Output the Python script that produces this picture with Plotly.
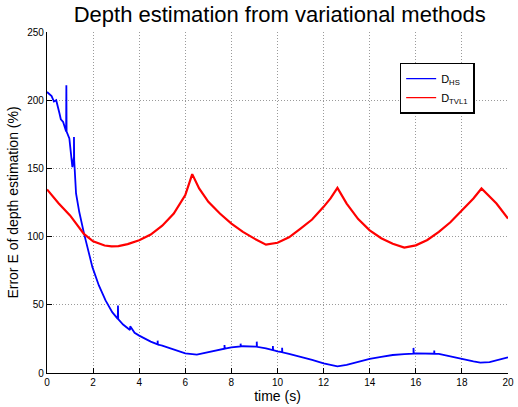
import plotly.graph_objects as go

# Red: D_TVL1
t_tvl1 = [0, 0.5, 1.0, 1.6, 2.0, 2.5, 2.8, 3.1, 3.5, 4.0, 4.5, 5.0, 5.5, 6.0, 6.3,
          6.6, 7.0, 7.5, 8.0, 8.5, 9.0, 9.5, 10.0, 10.5, 11.0, 11.5, 12.0, 12.3, 12.6,
          13.0, 13.5, 14.0, 14.5, 15.0, 15.5, 16.0, 16.5, 17.0, 17.5, 18.0, 18.5, 18.85,
          19.2, 19.5, 20.0]
e_tvl1 = [134.6, 124.5, 115.5, 102.0, 96.5, 93.5, 92.9, 93.0, 94.5, 97.3, 101.5, 108.0, 116.9, 130.4, 145.8,
          135.3, 125.5, 116.9, 109.5, 103.5, 98.5, 94.1, 95.5, 99.5, 105.9, 112.5, 121.8, 128.0, 135.7,
          124.2, 112.8, 104.6, 98.8, 94.8, 91.9, 93.6, 97.5, 103.4, 110.5, 119.3, 128.0, 135.3,
          129.0, 124.2, 113.2]

# Blue: D_HS (including visible spikes)
t_hs = [0, 0.1, 0.2, 0.3, 0.4, 0.54, 0.6, 0.7, 0.83, 0.84, 0.85, 0.97, 1.1, 1.17, 1.17, 1.18, 1.26, 1.4, 1.61,
        1.8, 1.97, 2.25, 2.54, 2.83, 3.07, 3.08, 3.09, 3.3, 3.54, 3.6, 3.61, 3.8, 4.0, 4.5,
        4.8, 4.8, 4.81, 5.0, 5.5, 6.0, 6.5, 7.0, 7.5, 7.7, 7.7, 7.71, 8.0, 8.4, 8.4, 8.41, 8.5,
        9.0, 9.1, 9.1, 9.11, 9.5, 9.8, 9.8, 9.81, 10.0, 10.2, 10.2, 10.21, 10.5, 11.0, 11.5, 12.0,
        12.6, 13.0, 13.5, 14.0, 14.5, 15.0, 15.5, 15.9, 15.9, 15.91, 16.0, 16.5, 16.8, 16.8,
        16.81, 17.0, 17.5, 18.0, 18.5, 18.8, 19.2, 19.5, 20.0]
e_hs = [206.0, 204.5, 203.0, 199.0, 200.0, 190.4, 186.0, 184.0, 177.0, 211.0, 177.0, 172.0, 151.0, 158.5, 173.0, 156.0, 131.6, 118.0, 102.0,
        88.5, 77.6, 64.2, 53.2, 44.6, 39.7, 49.5, 39.5, 35.5, 32.3, 31.5, 34.3, 29.5, 27.4, 23.0,
        21.0, 23.7, 20.8, 20.1, 17.0, 14.4, 13.5, 15.2, 17.4, 17.8, 20.5, 17.9, 18.8, 19.5, 21.5, 19.5, 19.6,
        19.4, 19.3, 23.0, 19.2, 18.1, 16.8, 19.8, 16.8, 15.9, 15.3, 18.5, 15.2, 14.1, 12.0, 9.6, 7.1,
        4.9, 6.0, 8.2, 10.3, 11.9, 13.2, 13.9, 14.2, 18.4, 14.2, 14.4, 14.3, 14.1, 16.5,
        14.1, 14.0, 12.4, 10.3, 8.5, 7.6, 7.9, 9.1, 11.5]

x_ticks = [0, 2, 4, 6, 8, 10, 12, 14, 16, 18, 20]
y_ticks = [0, 50, 100, 150, 200, 250]

FONT = "Liberation Sans, Arial, Helvetica"

fig = go.Figure()
fig.add_trace(go.Scatter(x=t_hs, y=e_hs, mode="lines", showlegend=False,
                         line=dict(color="#0000ff", width=1.8)))
fig.add_trace(go.Scatter(x=t_tvl1, y=e_tvl1, mode="lines", showlegend=False,
                         line=dict(color="#ff0000", width=2.2)))
# legend-only entries with thin lines
fig.add_trace(go.Scatter(x=[None], y=[None], mode="lines", name="D<sub>HS</sub>",
                         line=dict(color="#0000ff", width=1.3)))
fig.add_trace(go.Scatter(x=[None], y=[None], mode="lines", name="D<sub>TVL1</sub>",
                         line=dict(color="#ff0000", width=1.3)))

axis_common = dict(
    showgrid=True, gridcolor="#9a9a9a", griddash="1px,2px", gridwidth=1,
    showline=True, linecolor="black", linewidth=1.3, mirror=False,
    ticks="inside", ticklen=5, tickcolor="black", tickwidth=1.2,
    tickfont=dict(family=FONT, size=10, color="black"),
    zeroline=False, ticklabeloverflow="allow",
)

fig.update_layout(
    width=518, height=407,
    margin=dict(l=47, r=4, t=32, b=34),
    paper_bgcolor="white", plot_bgcolor="white",
    title=dict(text="Depth estimation from variational methods", x=0.54, xanchor="center",
               y=0.966, yanchor="middle",
               font=dict(family=FONT, size=22, color="black")),
    xaxis=dict(range=[0, 20], tickvals=x_ticks, title=dict(text="time (s)", standoff=2,
               font=dict(family=FONT, size=14, color="black")), **axis_common),
    yaxis=dict(range=[0, 250], tickvals=y_ticks, title=dict(text="Error E of depth estimation (%)", standoff=5,
               font=dict(family=FONT, size=14, color="black")), **axis_common),
    legend=dict(x=0.765, y=0.91, xanchor="left", yanchor="top",
                bordercolor="black", borderwidth=1.5, bgcolor="white",
                font=dict(family=FONT, size=11, color="black"),
                tracegroupgap=0, itemwidth=30),
    showlegend=True,
)

fig.write_html("out.html")
